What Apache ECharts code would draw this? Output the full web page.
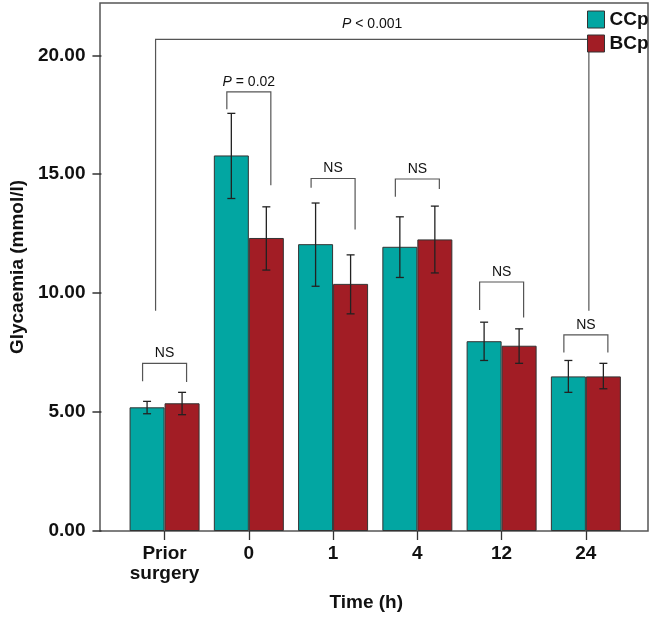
<!DOCTYPE html>
<html>
<head>
<meta charset="utf-8">
<script src="https://cdn.jsdelivr.net/npm/echarts@6/dist/echarts.min.js"></script>
<style>
  html, body { margin: 0; padding: 0; background: #fff; }
  #chart { width: 650px; height: 617px; }
</style>
</head>
<body>
<div id="chart"></div>
<script>
// glycaemia per time point, mean and error bar ends (mmol/l)
const categories = ['Prior\nsurgery', '0', '1', '4', '12', '24'];
const ccpMean = [5.20, 15.79, 12.06, 11.95, 7.98, 6.50];
const ccpLow = [4.93, 13.98, 10.29, 10.66, 7.17, 5.83];
const ccpHigh = [5.45, 17.56, 13.79, 13.21, 8.78, 7.17];
const bcpMean = [5.37, 12.32, 10.39, 12.26, 7.79, 6.50];
const bcpLow = [4.89, 10.97, 9.13, 10.85, 7.05, 5.98];
const bcpHigh = [5.83, 13.63, 11.61, 13.66, 8.50, 7.05];

// significance brackets over each pair
const bracketTop = [7.05, 18.46, 14.82, 14.80, 10.47, 8.25];
const bracketLeftEnd = [6.30, 17.73, 14.43, 14.05, 9.29, 7.51];
const bracketRightEnd = [6.26, 14.54, 12.68, 14.38, 8.98, 7.51];
const bracketLabels = ['NS', 'P = 0.02', 'NS', 'NS', 'NS', 'NS'];

// long bracket prior surgery -> 24 h
const overallSpan = [0, 5];
const overallTop = 20.67;
const overallEnd = 9.26;
const overallLabel = 'P < 0.001';

const yTicks = [0, 5, 10, 15, 20];

const TEAL = '#02a6a2';
const RED = '#a21d25';
const FONT = 'Liberation Sans, Arial, sans-serif';
const BAR_W = 35;

let chart = echarts.init(document.getElementById('chart'));

function richLabel(s) {
  return s.replace(/^P/, '{i|P}');
}

function errorBars(side) {
  return function (params, api) {
    let i = api.value(0);
    let x = api.coord([i, 0])[0] + side * BAR_W / 2;
    let yLo = api.coord([i, api.value(1)])[1];
    let yHi = api.coord([i, api.value(2)])[1];
    let st = { stroke: '#222', lineWidth: 1.3 };
    return {
      type: 'group',
      children: [
        { type: 'line', shape: { x1: x, y1: yLo, x2: x, y2: yHi }, style: st },
        { type: 'line', shape: { x1: x - 4, y1: yLo, x2: x + 4, y2: yLo }, style: st },
        { type: 'line', shape: { x1: x - 4, y1: yHi, x2: x + 4, y2: yHi }, style: st }
      ]
    };
  };
}

function bracketItem(params, api) {
  let i = api.value(0);
  let cx = api.coord([i, 0])[0];
  let yTop = api.coord([i, api.value(1)])[1];
  let yL = api.coord([i, api.value(2)])[1];
  let yR = api.coord([i, api.value(3)])[1];
  let l = cx - 22, r = cx + 22;
  return {
    type: 'group',
    children: [
      { type: 'polyline', shape: { points: [[l, yL], [l, yTop], [r, yTop], [r, yR]] },
        style: { stroke: '#555', lineWidth: 1.2, fill: null } },
      { type: 'text', style: {
          text: richLabel(bracketLabels[i]), x: cx, y: yTop - 10,
          align: 'center', verticalAlign: 'middle',
          font: '14px ' + FONT, fill: '#111',
          rich: { i: { fontStyle: 'italic', fontSize: 14, fontFamily: FONT } }
        } }
    ]
  };
}

function overallItem(params, api) {
  let xa = api.coord([overallSpan[0], 0])[0] - 9;
  let xb = api.coord([overallSpan[1], 0])[0] + 3;
  let yTop = api.coord([0, overallTop])[1];
  let yEnd = api.coord([0, overallEnd])[1];
  return {
    type: 'group',
    children: [
      { type: 'polyline', shape: { points: [[xa, yEnd], [xa, yTop], [xb, yTop], [xb, yEnd]] },
        style: { stroke: '#555', lineWidth: 1.2, fill: null } },
      { type: 'text', style: {
          text: richLabel(overallLabel), x: (xa + xb) / 2, y: yTop - 15,
          align: 'center', verticalAlign: 'middle',
          font: '14px ' + FONT, fill: '#111',
          rich: { i: { fontStyle: 'italic', fontSize: 14, fontFamily: FONT } }
        } }
    ]
  };
}

let option = {
  animation: false,
  backgroundColor: '#fff',
  textStyle: { fontFamily: FONT },
  grid: [
    { left: 121, right: 22, top: 3, bottom: 86 },
    // outer frame, also serves as the axis lines
    { left: 100, right: 2, top: 3, bottom: 86, show: true, borderColor: '#555', borderWidth: 1.5, z: 0 }
  ],
  legend: {
    data: ['CCp', 'BCp'],
    orient: 'vertical',
    left: 587, top: 10,
    padding: 0,
    itemWidth: 17, itemHeight: 17, itemGap: 5,
    icon: 'rect',
    itemStyle: { borderColor: '#333', borderWidth: 1 },
    textStyle: { fontSize: 19, fontWeight: 'bold', color: '#111', fontFamily: FONT }
  },
  xAxis: [
    {
      type: 'category',
      data: categories,
      name: 'Time (h)',
      nameLocation: 'middle',
      nameGap: 62,
      nameTextStyle: { fontSize: 19, fontWeight: 'bold', color: '#111', padding: [0, 18, 0, 0] },
      axisLine: { show: false },
      axisTick: { show: true, interval: 0, alignWithLabel: true, length: 9, lineStyle: { color: '#333', width: 1.3 } },
      axisLabel: { interval: 0, fontSize: 19, fontWeight: 'bold', color: '#111', margin: 13, lineHeight: 20 }
    },
    { gridIndex: 1, type: 'value', show: false, min: 0, max: 1 }
  ],
  yAxis: [
    {
      type: 'value',
      min: 0, max: 22.2,
      offset: 21,
      name: 'Glycaemia (mmol/l)',
      nameLocation: 'middle',
      nameGap: 72,
      nameTextStyle: { fontSize: 19, fontWeight: 'bold', color: '#111' },
      splitLine: { show: false },
      axisLine: { show: false },
      axisTick: { show: true, length: 9, customValues: yTicks, lineStyle: { color: '#333', width: 1.5 } },
      axisLabel: {
        fontSize: 19, fontWeight: 'bold', color: '#111', margin: 16,
        customValues: yTicks,
        formatter: function (v) { return v.toFixed(2); }
      }
    },
    { gridIndex: 1, type: 'value', show: false, min: 0, max: 1 }
  ],
  series: [
    {
      name: 'CCp', type: 'bar', data: ccpMean,
      barWidth: BAR_W, barGap: '0%',
      itemStyle: { color: TEAL, borderColor: '#333', borderWidth: 1 }
    },
    {
      name: 'BCp', type: 'bar', data: bcpMean,
      barWidth: BAR_W, barGap: '0%',
      itemStyle: { color: RED, borderColor: '#333', borderWidth: 1 }
    },
    {
      type: 'custom', name: 'ccpErr', z: 5,
      renderItem: errorBars(-1),
      encode: { x: 0, y: [1, 2] },
      data: categories.map((c, i) => [i, ccpLow[i], ccpHigh[i]])
    },
    {
      type: 'custom', name: 'bcpErr', z: 5,
      renderItem: errorBars(1),
      encode: { x: 0, y: [1, 2] },
      data: categories.map((c, i) => [i, bcpLow[i], bcpHigh[i]])
    },
    {
      type: 'custom', name: 'brackets', z: 4,
      renderItem: bracketItem,
      encode: { x: 0, y: [1, 2, 3] },
      data: categories.map((c, i) => [i, bracketTop[i], bracketLeftEnd[i], bracketRightEnd[i]])
    },
    {
      type: 'custom', name: 'overall', z: 3,
      renderItem: overallItem,
      encode: { x: 0, y: [1, 2] },
      data: [[overallSpan[0], overallTop, overallEnd]]
    }
  ]
};

chart.setOption(option);
</script>
</body>
</html>
